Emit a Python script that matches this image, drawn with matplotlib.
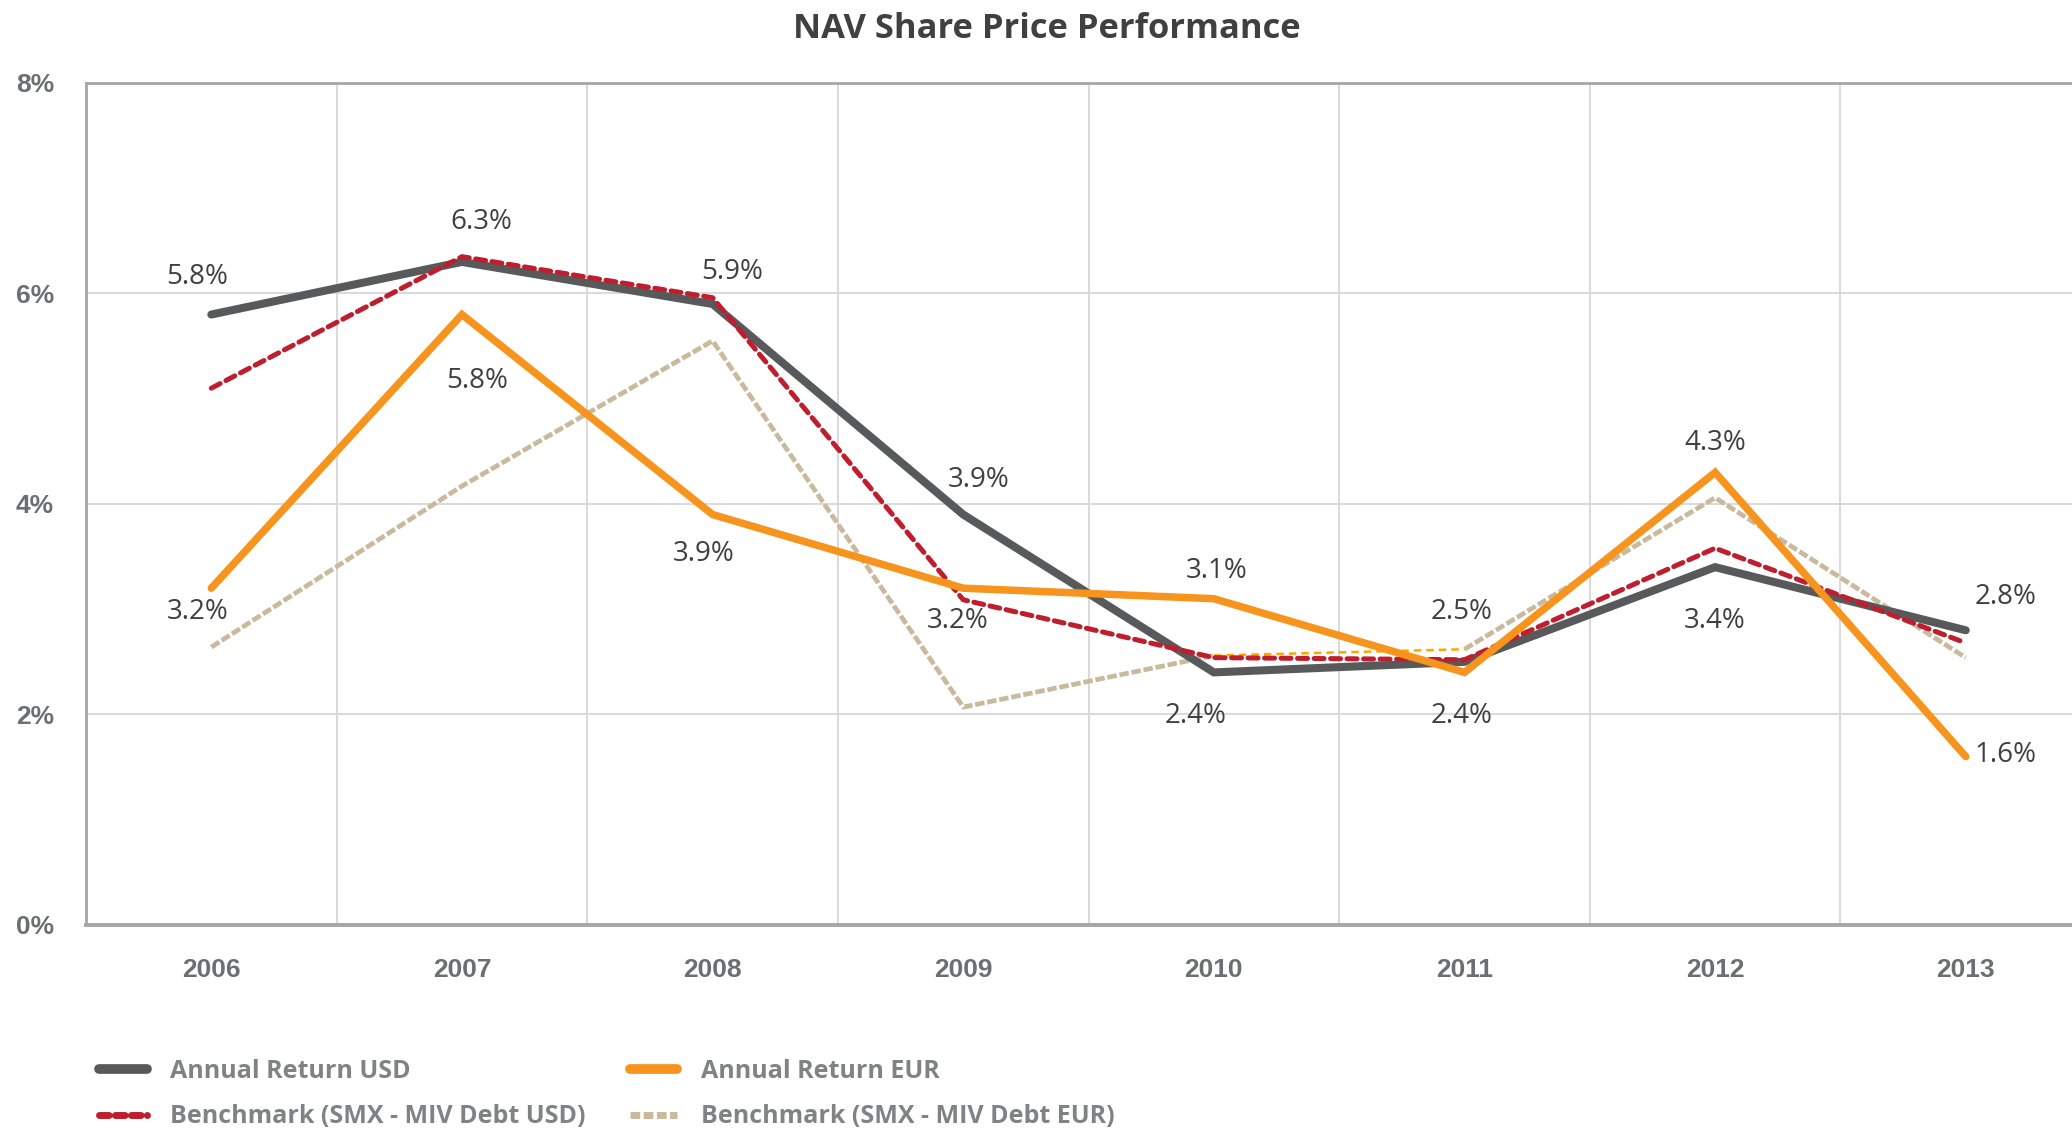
import matplotlib
matplotlib.use('Agg')
import matplotlib.pyplot as plt
from matplotlib.lines import Line2D

years = ['2006', '2007', '2008', '2009', '2010', '2011', '2012', '2013']
usd = [5.8, 6.3, 5.9, 3.9, 2.4, 2.5, 3.4, 2.8]
eur = [3.2, 5.8, 3.9, 3.2, 3.1, 2.4, 4.3, 1.6]
bench_usd = [5.10, 6.35, 5.96, 3.09, 2.54, 2.52, 3.58, 2.68]
bench_eur = [2.64, 4.17, 5.55, 2.07, 2.56, 2.62, 4.06, 2.54]
yticks = [0, 2, 4, 6, 8]

# label offsets in pixels (dx, dy), picked by eye
usd_off = [(-14, 38), (19, 40), (20, 32), (15, 35), (-18, -44), (-3, 50), (0, -54), (40, 33)]
eur_off = [(-14, -24), (15, -66), (-9, -39), (-6, -33), (3, 28), (-3, -44), (0, 29), (40, 2)]

c_usd = '#58595B'
c_eur = '#F7941D'
c_busd = '#BE1E2D'
c_beur = '#C9B99D'
txt = '#404040'

fig = plt.figure(figsize=(20.72, 11.29), dpi=100)
ax = fig.add_axes([0.0415, 0.1807, 0.9677, 0.7458])

x = list(range(len(years)))

ax.plot(x, usd, color=c_usd, lw=5.8, solid_capstyle='round', solid_joinstyle='miter', zorder=3)
ax.plot(x, eur, color=c_eur, lw=5.4, solid_capstyle='round', solid_joinstyle='miter', zorder=5)
ax.plot(x, bench_usd, color=c_busd, lw=3.6, dashes=(2.0, 1.3), dash_capstyle='round', zorder=4)
ax.plot(x[:5], bench_eur[:5], color=c_beur, lw=3.4, dashes=(2.0, 0.6), zorder=2)
ax.plot(x[5:], bench_eur[5:], color=c_beur, lw=3.4, dashes=(2.0, 0.6), zorder=2)
# odd thin orange dashed piece in the source between 2010 and 2011
ax.plot(x[4:6], bench_eur[4:6], color='#FFA500', lw=1.8, dashes=(3, 2), zorder=2)

for i in x:
    ax.annotate('%.1f%%' % usd[i], (i, usd[i]), xytext=usd_off[i], textcoords='offset pixels',
                ha='center', va='center', fontsize=20, color=txt, family='Open Sans', zorder=6)
    ax.annotate('%.1f%%' % eur[i], (i, eur[i]), xytext=eur_off[i], textcoords='offset pixels',
                ha='center', va='center', fontsize=20, color=txt, family='Open Sans', zorder=6)

ax.set_xlim(-0.5, 7.5)
ax.set_ylim(0, 8)
ax.set_xticks(x)
ax.set_xticklabels(years)
ax.set_yticks(yticks)
ax.set_yticklabels(['%d%%' % v for v in yticks])
ax.set_xticks([i + 0.5 for i in x], minor=True)
ax.tick_params(axis='both', which='both', length=0)
ax.tick_params(axis='x', pad=24)
ax.tick_params(axis='y', pad=23)
for lab in ax.get_xticklabels() + ax.get_yticklabels():
    lab.set_fontfamily('Liberation Sans')
    lab.set_fontweight('bold')
    lab.set_fontsize(19)
    lab.set_color('#6D6E71')

ax.grid(axis='y', which='major', color='#D9D9D9', lw=1.4)
ax.grid(axis='x', which='minor', color='#D9D9D9', lw=1.4)
ax.set_axisbelow(True)
for s in ['left', 'top', 'bottom']:
    ax.spines[s].set_color('#A6A6A6')
ax.spines['left'].set_linewidth(2)
ax.spines['top'].set_linewidth(2)
ax.spines['bottom'].set_linewidth(2.8)
ax.spines['right'].set_visible(False)

fig.text(0.505, 0.974, 'NAV Share Price Performance', ha='center', va='center',
         fontsize=24.8, fontweight='bold', color=txt, family='Open Sans')

handles = [
    Line2D([], [], color=c_usd, lw=7, solid_capstyle='round'),
    Line2D([], [], color=c_busd, lw=5, dashes=(1.4, 0.9), dash_capstyle='round'),
    Line2D([], [], color=c_eur, lw=7, solid_capstyle='round'),
    Line2D([], [], color=c_beur, lw=5, dashes=(1.4, 0.5)),
]
labels = ['Annual Return USD', 'Benchmark (SMX - MIV Debt USD)',
          'Annual Return EUR', 'Benchmark (SMX - MIV Debt EUR)']
leg = fig.legend(handles, labels, ncol=2, loc='center left', bbox_to_anchor=(0.037, 0.031),
                 frameon=False, handlelength=1.9, handletextpad=0.95, columnspacing=1.75,
                 labelspacing=0.82, prop={'family': 'Open Sans', 'weight': 'bold', 'size': 18})
for t in leg.get_texts():
    t.set_color('#808285')

fig.savefig('out.png', dpi=100)
